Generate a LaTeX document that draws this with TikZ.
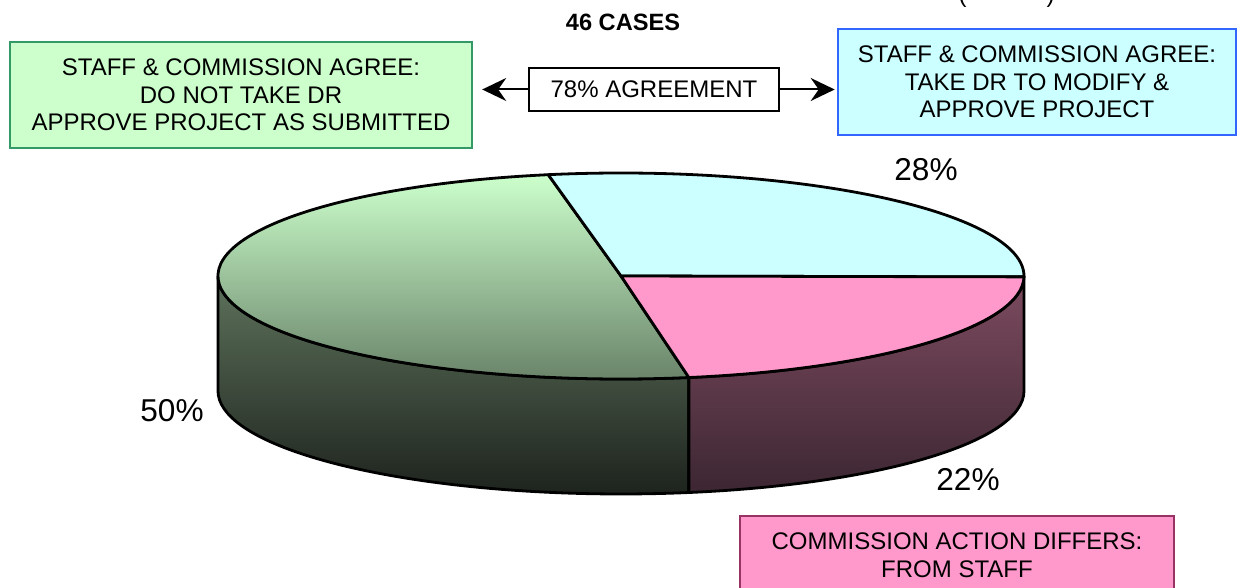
\documentclass[tikz,border=0pt]{standalone}
\usepackage{fontspec}
\setmainfont{Liberation Sans}
\definecolor{lightgrn}{HTML}{CCFFCC}
\definecolor{grnedge}{HTML}{339966}
\definecolor{lightcyn}{HTML}{CCFFFF}
\definecolor{bluedge}{HTML}{3366FF}
\definecolor{pinktop}{HTML}{FF99CC}
\definecolor{pinkedge}{HTML}{993366}
\definecolor{grnmid}{HTML}{667F66}
\definecolor{grnside}{HTML}{5E735C}
\definecolor{grndark}{HTML}{1C211C}
\definecolor{pnkside}{HTML}{7D4B5F}
\definecolor{pnkdark}{HTML}{3C2632}
\usepackage{tikz}
\usetikzlibrary{arrows.meta,positioning,calc}
\tikzset{
  pieln/.style={draw=black,line width=1.4pt,line join=round},
  boxtxt/.style={font=\fontsize{12}{13.8}\selectfont,align=center,inner sep=0pt},
  grnbox/.style={boxtxt,draw=grnedge,fill=lightgrn,line width=1.2pt,minimum width=231pt,minimum height=53pt},
  blubox/.style={boxtxt,draw=bluedge,fill=lightcyn,line width=1.3pt,minimum width=199pt,minimum height=53pt},
  pnkbox/.style={boxtxt,draw=pinkedge,fill=pinktop,line width=1.2pt,minimum width=217pt,minimum height=39pt},
  agrbox/.style={boxtxt,draw=black,fill=white,line width=0.8pt,minimum width=125pt,minimum height=21.5pt},
  arr/.style={-{Stealth[length=12pt,width=11.5pt,inset=4pt]},line width=1pt},
  pct/.style={font=\fontsize{15.8}{18}\selectfont},
}
\begin{document}
\begin{tikzpicture}[x=0.5pt,y=0.5pt]
  \useasboundingbox (0,0) rectangle (1238,588);
  \coordinate (c) at (621,312);
  % yon devor
  \draw[pieln,top color=grnside,bottom color=grndark]
    (c) ++(180:403 and 103) arc (180:279.7:403 and 103) -- ++(0,-115)
    arc (279.7:180:403 and 103) -- cycle;
  \draw[pieln,top color=pnkside,bottom color=pnkdark]
    (c) ++(279.7:403 and 103) arc (279.7:360:403 and 103) -- ++(0,-115)
    arc (360:279.7:403 and 103) -- cycle;
  % tepa yuz
  \draw[pieln,top color=lightgrn,bottom color=grnmid]
    (c) -- ++(100.4:403 and 103) arc (100.4:279.7:403 and 103) -- cycle;
  \draw[pieln,fill=lightcyn] (c) -- ++(-0.5:403 and 103) arc (-0.5:100.4:403 and 103) -- cycle;
  \draw[pieln,fill=pinktop] (c) -- ++(-80.3:403 and 103) arc (-80.3:-0.5:403 and 103) -- cycle;
  % foizlar
  \node[pct] (p28) at (926,418) {28\%};
  \node[pct] (p50) at (172,177) {50\%};
  \node[pct] (p22) at (968,108) {22\%};
  % qutilar
  \node[font=\bfseries\fontsize{11.8}{13}\selectfont] (cases) at (623,566) {46 CASES};
  \node[boxtxt,anchor=base] (yrs) at (1006.5,585) {(\hspace{40pt})};
  \node[grnbox] (agreeno) at (241,493)
    {STAFF \& COMMISSION AGREE:\\DO NOT TAKE DR\\APPROVE PROJECT AS SUBMITTED};
  \node[blubox] (agreedr) at (1037,506)
    {STAFF \& COMMISSION AGREE:\\TAKE DR TO MODIFY \&\\APPROVE PROJECT};
  \node[agrbox] (agree) at (654,498.5) {78\% AGREEMENT};
  \node[pnkbox] (differ) at (957,33) {COMMISSION ACTION DIFFERS:\\FROM STAFF};
  % strelkalar
  \draw[arr,shorten >=4.5pt] (agree.west) -- (agreeno.east |- agree.west);
  \draw[arr,shorten >=1pt] (agree.east) -- (agreedr.west |- agree.east);
\end{tikzpicture}
\end{document}
